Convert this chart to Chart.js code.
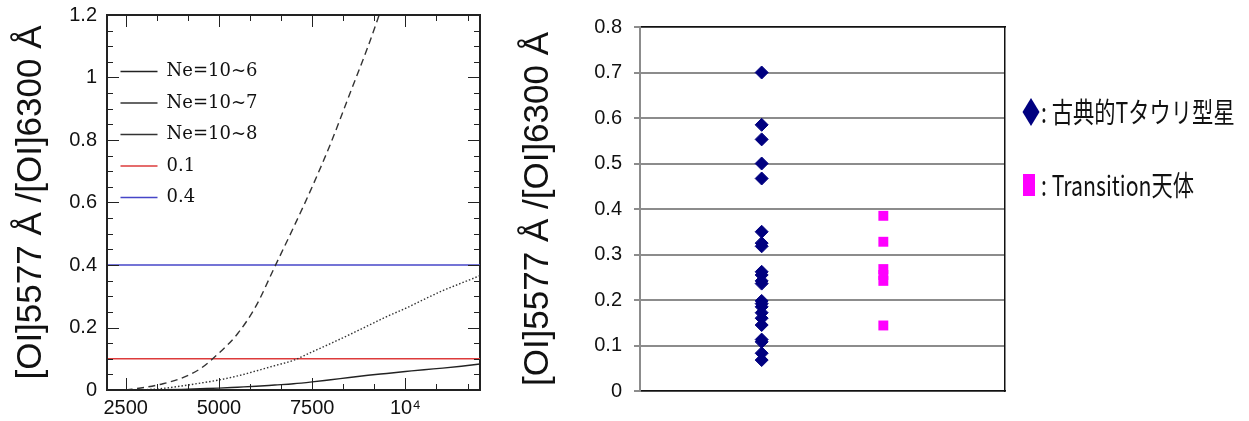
<!DOCTYPE html>
<html lang="ja">
<head>
<meta charset="UTF-8">
<title>[OI]5577/[OI]6300 比</title>
<script src="https://cdn.jsdelivr.net/npm/chart.js@4.4.1/dist/chart.umd.min.js"></script>
<style>
  body { margin: 0; background: #fff; }
  canvas { position: absolute; top: 0; display: block; }
  #model { left: 0; }
  #obs { left: 500px; }
  .frame { position: absolute; box-sizing: border-box; border: 1px solid #222; pointer-events: none; }
  .tick { position: absolute; background: #222; pointer-events: none; }
</style>
</head>
<body>
<canvas id="model" width="500" height="421"></canvas>
<canvas id="obs" width="749" height="421"></canvas>
<script>
// ---- left panel: model ratio vs temperature ----
const temps = [2500, 3000, 3500, 4000, 4500, 5000, 5500, 6000, 6500, 7000,
               7500, 8000, 8500, 9000, 9500, 10000, 10500, 11000, 11500, 12000];
const ne6 = [0, 0.0005, 0.001, 0.002, 0.004, 0.006, 0.009, 0.012, 0.016, 0.020,
             0.026, 0.033, 0.040, 0.047, 0.053, 0.059, 0.065, 0.070, 0.076, 0.083];
const ne7 = [0, 0.001, 0.005, 0.013, 0.022, 0.032, 0.045, 0.061, 0.078, 0.095,
             0.122, 0.149, 0.177, 0.206, 0.235, 0.261, 0.290, 0.318, 0.342, 0.366];
const ne8 = [0, 0.008, 0.020, 0.038, 0.068, 0.118, 0.180, 0.270, 0.395, 0.520,
             0.650, 0.790, 0.945, 1.100, 1.270];
const lowRatio = 0.1;
const highRatio = 0.4;

const xMajorTicks = [2500, 5000, 7500, 10000];
const xTickLabels = ['2500', '5000', '7500', '10⁴'];
const yMajorTicks = [0, 0.2, 0.4, 0.6, 0.8, 1.0, 1.2];
const yTickLabels = ['0', '0.2', '0.4', '0.6', '0.8', '1', '1.2'];

// ---- right panel: observed ratios ----
const cttsRatios = [0.70, 0.585, 0.553, 0.50, 0.467, 0.35, 0.325, 0.318, 0.262, 0.255, 0.242,
                    0.236, 0.198, 0.192, 0.185, 0.172, 0.160, 0.145, 0.113, 0.108, 0.083, 0.068];
const transitionRatios = [0.385, 0.328, 0.268, 0.255, 0.242, 0.144];
const cttsColumn = 1;
const transitionColumn = 2;

const yTitle = '[OI]5577 Å /[OI]6300 Å';

Chart.defaults.font.family = "'Liberation Sans', Arial, sans-serif";
Chart.defaults.color = '#111';

// legend at the right of the observed panel, condensed text like the original
const sideLegend = {
  id: 'sideLegend',
  afterDraw(chart) {
    const ctx = chart.ctx;
    const rowsY = [112, 185];
    const squeeze = 0.76;
    ctx.save();
    chart.data.datasets.forEach((ds, i) => {
      const y = rowsY[i];
      ctx.fillStyle = ds.backgroundColor;
      if (ds.pointStyle === 'rectRot') {
        ctx.beginPath();
        ctx.moveTo(531, y - 14);
        ctx.lineTo(539.5, y);
        ctx.lineTo(531, y + 14);
        ctx.lineTo(522.5, y);
        ctx.closePath();
        ctx.fill();
      } else {
        ctx.fillRect(523, y - 11, 12, 22);
      }
      ctx.save();
      ctx.scale(squeeze, 1);
      ctx.fillStyle = '#111';
      ctx.font = "28px 'Noto Sans CJK JP', sans-serif";
      ctx.textBaseline = 'middle';
      ctx.fillText(': ' + ds.label, 541 / squeeze, y);
      ctx.restore();
    });
    ctx.restore();
  }
};

const blackEdge = { display: true, color: '#111', width: 1.5 };

new Chart(document.getElementById('obs'), {
  type: 'scatter',
  data: {
    datasets: [
      { label: '古典的Tタウリ型星', data: cttsRatios.map(v => ({ x: cttsColumn, y: v })),
        pointStyle: 'rectRot', pointRadius: 6.5, backgroundColor: '#000080', borderColor: '#000080', borderWidth: 1 },
      { label: 'Transition天体', data: transitionRatios.map(v => ({ x: transitionColumn, y: v })),
        pointStyle: 'rect', pointRadius: 7, backgroundColor: '#ff00ff', borderColor: '#ff00ff', borderWidth: 0 }
    ]
  },
  options: {
    responsive: false,
    animation: false,
    events: [],
    layout: { padding: { left: 0, right: 244, top: 27, bottom: 0 } },
    plugins: { legend: { display: false }, tooltip: { enabled: false } },
    scales: {
      x: {
        type: 'linear', position: 'bottom', min: 0, max: 3,
        afterFit: a => { a.height = 30; a.paddingLeft = 0; a.paddingRight = 0; },
        ticks: { display: false }, grid: { display: false }, border: blackEdge
      },
      xTop: {
        type: 'linear', position: 'top', min: 0, max: 3,
        afterFit: a => { a.height = 0; },
        ticks: { display: false }, grid: { display: false }, border: blackEdge
      },
      y: {
        type: 'linear', position: 'left', min: 0, max: 0.8,
        afterFit: a => { a.width = 140; a.paddingTop = 0; a.paddingBottom = 0; },
        grid: { color: '#8c8c8c', lineWidth: 2, tickLength: 6 },
        border: { display: true, color: '#8c8c8c', width: 2 },
        title: { display: true, text: yTitle, font: { size: 35, lineHeight: 1 }, padding: { top: 21, bottom: 0 } },
        ticks: { stepSize: 0.1, padding: 12, font: { size: 20 } }
      },
      yRight: {
        type: 'linear', position: 'right', min: 0, max: 0.8,
        afterFit: a => { a.width = 0; },
        ticks: { display: false }, grid: { display: false }, border: blackEdge
      }
    }
  },
  plugins: [sideLegend]
});

// ---- left panel chart ----
const MAJOR_LEN = 12;
const MINOR_LEN = 6;
const xMinorStep = 2500 / 3;
const yMinorStep = 0.05;

function near(v, list) {
  return list.findIndex(m => Math.abs(v - m) < 1e-6 * Math.max(1, Math.abs(m)));
}
function xTicks(axis) {
  const out = [];
  for (let v = xMajorTicks[0]; v <= axis.max + 1e-6; v += xMinorStep) out.push({ value: v });
  axis.ticks = out;
}
function yTicks(axis) {
  const out = [];
  for (let i = 0; i * yMinorStep <= axis.max + 1e-9; i++) out.push({ value: i * yMinorStep });
  axis.ticks = out;
}

const series = (xs, ys) => ys.map((v, i) => ({ x: xs[i], y: v }));
const flat = v => [{ x: 2000, y: v }, { x: 12000, y: v }];
const frame = { display: true, color: '#222', width: 1.2 };

const model = new Chart(document.getElementById('model'), {
  type: 'line',
  data: {
    datasets: [
      { label: 'Ne=10~6', data: series(temps, ne6), borderColor: '#222', borderWidth: 1.4 },
      { label: 'Ne=10~7', data: series(temps, ne7), borderColor: '#333', borderWidth: 1.4, borderDash: [1.5, 2] },
      { label: 'Ne=10~8', data: series(temps, ne8), borderColor: '#333', borderWidth: 1.4, borderDash: [7, 4.5] },
      { label: '0.1', data: flat(lowRatio), borderColor: '#dd3b3b', borderWidth: 1.6 },
      { label: '0.4', data: flat(highRatio), borderColor: '#4646c8', borderWidth: 1.6 }
    ]
  },
  options: {
    responsive: false,
    animation: false,
    events: [],
    cubicInterpolationMode: 'monotone',
    elements: { point: { radius: 0 } },
    layout: { padding: { left: 0, right: 20, top: 15, bottom: 0 } },
    plugins: {
      tooltip: { enabled: false },
      legend: {
        position: 'chartArea',
        align: 'start',
        title: { display: true, text: ' ', font: { size: 10, lineHeight: 1 }, padding: { top: 39, bottom: 0 } },
        labels: {
          usePointStyle: true, pointStyle: 'line', pointStyleWidth: 37, boxHeight: 18,
          padding: 13.5, color: '#111',
          font: { family: "'DejaVu Serif', serif", size: 18 }
        }
      }
    },
    scales: {
      x: {
        type: 'linear', position: 'bottom', min: 2000, max: 12000,
        afterBuildTicks: xTicks,
        afterFit: a => { a.height = 31; a.paddingLeft = 0; a.paddingRight = 0; },
        border: frame,
        grid: { display: false, drawTicks: false },
        ticks: {
          autoSkip: false, maxRotation: 0, padding: 6, font: { size: 20 },
          callback: v => { const i = near(v, xMajorTicks); return i >= 0 ? xTickLabels[i] : ''; }
        }
      },
      xTop: {
        type: 'linear', position: 'top', min: 2000, max: 12000,
        afterFit: a => { a.height = 0; },
        ticks: { display: false }, grid: { display: false }, border: frame
      },
      y: {
        type: 'linear', position: 'left', min: 0, max: 1.2,
        afterBuildTicks: yTicks,
        afterFit: a => { a.width = 107; a.paddingTop = 0; a.paddingBottom = 0; },
        border: frame,
        grid: { display: false, drawTicks: false },
        title: { display: true, text: yTitle, font: { size: 35, lineHeight: 1 }, padding: { top: 14, bottom: 0 } },
        ticks: {
          autoSkip: false, padding: 10, font: { size: 20 },
          callback: v => { const i = near(v, yMajorTicks); return i >= 0 ? yTickLabels[i] : ''; }
        }
      },
      yRight: {
        type: 'linear', position: 'right', min: 0, max: 1.2,
        afterFit: a => { a.width = 0; },
        ticks: { display: false }, grid: { display: false }, border: frame
      }
    }
  }
});

// box frame and inward major/minor ticks laid over the left panel,
// placed with the chart's own scales
(function addFrame(chart, canvasLeft) {
  const a = chart.chartArea;
  const x = chart.scales.x;
  const y = chart.scales.y;
  const put = (cls, left, top, w, h) => {
    const d = document.createElement('div');
    d.className = cls;
    d.style.left = (canvasLeft + left) + 'px';
    d.style.top = top + 'px';
    d.style.width = w + 'px';
    d.style.height = h + 'px';
    document.body.appendChild(d);
  };
  put('frame', a.left - 0.5, a.top - 0.5, a.right - a.left + 1, a.bottom - a.top + 1);
  for (const t of x.ticks) {
    const px = Math.round(x.getPixelForValue(t.value)) - 0.5;
    const len = near(t.value, xMajorTicks) >= 0 ? MAJOR_LEN : MINOR_LEN;
    put('tick', px, a.bottom - len, 1, len);
    put('tick', px, a.top, 1, len);
  }
  for (const t of y.ticks) {
    const py = Math.round(y.getPixelForValue(t.value)) - 0.5;
    const len = near(t.value, yMajorTicks) >= 0 ? MAJOR_LEN : MINOR_LEN;
    put('tick', a.left, py, len, 1);
    put('tick', a.right - len, py, len, 1);
  }
})(model, 0);
</script>
</body>
</html>
